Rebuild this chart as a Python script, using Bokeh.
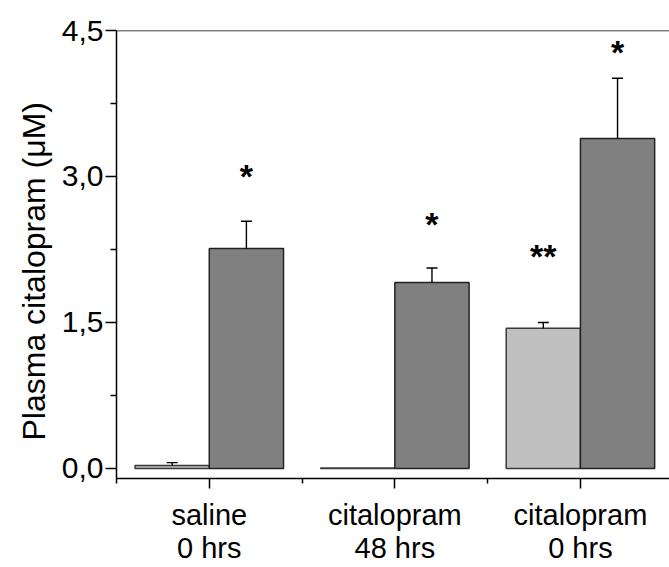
from bokeh.plotting import figure
from bokeh.models import FixedTicker, CustomJSTickFormatter, Span, Range1d, Title
from bokeh.core.properties import value
from bokeh.embed import file_html
from bokeh.resources import INLINE

# ---- data ----
groups = ["saline\n0 hrs", "citalopram\n48 hrs", "citalopram\n0 hrs"]
light_means = [0.03, 0.005, 1.44]
light_err = [0.03, 0.0, 0.06]
dark_means = [2.26, 1.91, 3.39]
dark_err = [0.28, 0.15, 0.62]
star_text = ["*", "*", "**", "*"]
star_group = [0, 1, 2, 2]
star_series = [1, 1, 0, 1]   # 0 = light bar, 1 = dark bar
star_y = [3.01, 2.51, 2.18, 4.28]
y_ticks = [0.0, 1.5, 3.0, 4.5]
y_minor = [0.75, 2.25, 3.75]
y_title = "Plasma citalopram (\u03bcM)"

FONT = "Liberation Sans"
BW = 0.4

p = figure(width=669, height=567, output_backend="svg", toolbar_location=None,
           x_range=Range1d(-0.5, 2.48), y_range=Range1d(-0.103, 4.5),
           min_border_left=116, min_border_right=0, min_border_top=30,
           min_border_bottom=88)
p.outline_line_color = None
p.xgrid.visible = False
p.ygrid.visible = False
p.background_fill_color = "white"
p.border_fill_color = "white"

xs = list(range(len(groups)))
lx = [x - BW / 2 for x in xs]
dx = [x + BW / 2 for x in xs]

p.vbar(x=lx, top=light_means, bottom=0, width=BW, fill_color="#C0C0C0",
       line_color="#3a3a3a", line_width=1.5)
p.vbar(x=dx, top=dark_means, bottom=0, width=BW, fill_color="#808080",
       line_color="#222222", line_width=1.5)

# error bars (upper only)
ex = lx + dx
ey0 = light_means + dark_means
ee = light_err + dark_err
ey1 = [m + e for m, e in zip(ey0, ee)]
keep = [i for i, e in enumerate(ee) if e > 0]
ex = [ex[i] for i in keep]
ey0 = [ey0[i] for i in keep]
ey1 = [ey1[i] for i in keep]
p.segment(x0=ex, y0=ey0, x1=ex, y1=ey1, line_color="black", line_width=1.4)
p.dash(x=ex, y=ey1, size=11, line_color="black", line_width=1.4)

# significance stars
sx = [g + (BW / 2 if s == 1 else -BW / 2) for g, s in zip(star_group, star_series)]
p.text(x=sx, y=star_y, text=star_text, text_align="center", text_baseline="middle",
       text_font=value(FONT), text_font_style="bold", text_font_size="34px",
       text_color="black")

# top frame line
p.add_layout(Span(location=4.5, dimension="width", line_color="black", line_width=1.6))

# y axis
yax = p.yaxis[0]
yax.ticker = FixedTicker(ticks=y_ticks, minor_ticks=y_minor)
yax.formatter = CustomJSTickFormatter(code="return tick.toFixed(1).replace('.', ',');")
yax.major_label_text_font = FONT
yax.major_label_text_font_size = "30px"
yax.major_label_text_color = "black"
yax.major_label_standoff = 2
yax.major_tick_out = 11
yax.major_tick_in = 0
yax.minor_tick_out = 6
yax.minor_tick_in = 0
yax.axis_line_color = "black"
yax.axis_line_width = 1.5
yax.major_tick_line_width = 1.5
yax.minor_tick_line_width = 1.5

# y axis title as a side title (allows an offset along the axis)
p.add_layout(Title(text=y_title, align="left", offset=38, standoff=13,
                   text_font=FONT, text_font_size="32px", text_font_style="normal",
                   text_color="black"), "left")

# x axis
xax = p.xaxis[0]
xax.ticker = FixedTicker(ticks=xs, minor_ticks=[-0.5, 0.5, 1.5, 2.5])
xax.formatter = CustomJSTickFormatter(args=dict(labels=groups),
                                      code="return labels[Math.round(tick)];")
xax.major_label_text_font = FONT
xax.major_label_text_font_size = "29px"
xax.major_label_text_color = "black"
xax.major_label_text_align = "center"
xax.major_label_text_line_height = 1.05
xax.major_label_standoff = 10
xax.major_tick_out = 10
xax.major_tick_in = 0
xax.minor_tick_out = 5
xax.minor_tick_in = 0
xax.axis_line_color = "black"
xax.axis_line_width = 1.5
xax.major_tick_line_width = 1.5
xax.minor_tick_line_width = 1.5

open("out.html", "w").write(file_html(p, INLINE))
